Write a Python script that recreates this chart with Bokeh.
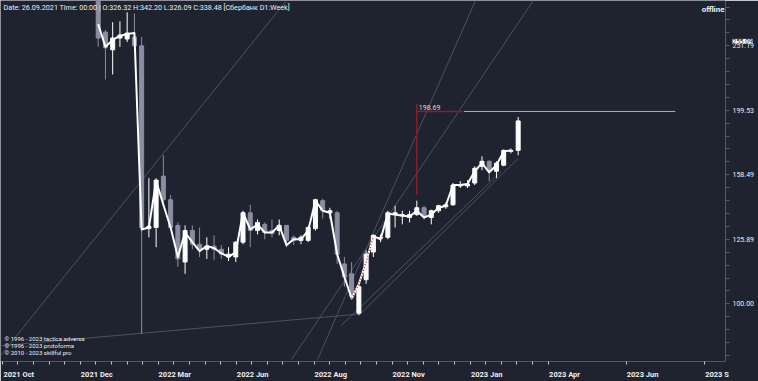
from bokeh.plotting import figure
from bokeh.models import (ColumnDataSource, Range1d, LogAxis, LinearAxis,
                          FixedTicker, PrintfTickFormatter, Label)
from bokeh.embed import file_html
from bokeh.resources import INLINE

# ---------------- data (weekly bars, Sberbank) ----------------
bars = list(range(59))
opens = [296.0, 263.7, 247.6, 258.2, 257.3, 259.2, 251.1, 130.8, 131.3, 157.7,
         145.0, 132.3, 116.1, 129.9, 123.7, 121.5, 122.9, 121.5, 118.2, 118.2,
         124.6, 138.4, 129.9, 132.8, 129.9, 129.9, 132.3, 126.8, 125.4, 125.4,
         130.8, 144.5, 138.4, 138.4, 115.3, 111.3, 96.7, 109.0, 120.3, 126.4,
         126.8, 137.5, 136.9, 136.1, 137.5, 140.9, 136.1, 139.4, 141.4, 142.4,
         152.3, 152.3, 153.9, 163.4, 166.3, 160.5, 164.0, 172.3, 172.9]
highs = [300.0, 265.6, 273.2, 274.1, 283.0, 282.0, 259.2, 156.6, 156.6, 169.9,
         147.5, 133.7, 132.3, 132.3, 131.3, 126.8, 127.7, 123.3, 122.4, 125.0,
         139.4, 142.4, 135.1, 133.7, 135.1, 135.1, 132.3, 127.7, 127.7, 131.9,
         145.5, 145.5, 140.9, 139.4, 118.2, 116.1, 107.1, 121.0, 128.1, 128.1,
         139.4, 141.9, 139.4, 139.4, 144.5, 141.9, 139.9, 142.4, 143.5, 153.9,
         154.9, 155.5, 163.4, 169.3, 166.9, 166.3, 173.5, 174.1, 194.8]
lows = [250.2, 222.7, 226.7, 250.2, 254.6, 250.2, 89.8, 126.8, 122.4, 143.5,
        130.4, 114.1, 111.3, 121.5, 118.2, 117.4, 117.0, 117.4, 116.5, 116.1,
        123.7, 122.4, 128.1, 125.9, 126.8, 127.7, 122.4, 123.3, 123.7, 124.6,
        129.9, 135.6, 135.6, 115.3, 106.3, 101.9, 96.0, 107.4, 118.2, 124.6,
        125.9, 131.3, 132.8, 133.7, 136.9, 135.1, 132.8, 138.4, 140.4, 141.9,
        151.2, 151.2, 152.8, 161.1, 154.9, 156.6, 163.4, 171.1, 169.9]
closes = [258.2, 249.3, 258.2, 261.0, 262.8, 251.1, 131.3, 131.9, 155.5, 145.0,
          131.3, 117.4, 129.9, 123.7, 121.5, 122.9, 121.5, 119.4, 119.4, 124.6,
          138.4, 129.9, 133.7, 129.0, 128.6, 132.3, 125.4, 125.4, 126.8, 131.3,
          145.0, 139.4, 139.4, 119.4, 110.1, 102.6, 106.3, 119.4, 127.7, 126.8,
          138.4, 138.4, 137.5, 137.5, 140.9, 136.9, 139.4, 141.9, 142.4, 152.8,
          152.8, 153.3, 162.2, 166.3, 160.5, 165.2, 172.9, 172.9, 192.1]
# smoothed average line as drawn on the chart (one value per bar, last bar has none)
ma_values = [271.3, 250.2, 256.4, 260.1, 261.9, 262.8, 130.4, 131.3, 155.0, 142.4,
             131.3, 118.2, 129.0, 124.6, 120.7, 122.9, 122.0, 119.8, 118.2, 120.3,
             138.4, 130.4, 132.8, 129.0, 129.0, 132.3, 123.3, 125.9, 125.9, 129.9,
             144.5, 139.4, 138.4, 119.4, 110.1, 101.9, 107.4, 116.1, 127.3, 125.9,
             137.9, 137.5, 136.9, 136.6, 139.4, 136.1, 137.5, 140.9, 141.9, 152.8,
             152.8, 153.3, 160.5, 165.2, 159.9, 164.0, 172.3, 172.9]

price_levels = [100.00, 125.89, 158.49, 199.53, 251.19]
time_labels = ["2021 Oct", "2021 Dec", "2022 Mar", "2022 Jun", "2022 Aug",
               "2022 Nov", "2023 Jan", "2023 Apr", "2023 Jun", "2023 S"]
header = ("Date: 26.09.2021 Time: 00:00 | O:326.32 H:342.20 L:326.09 "
          "C:338.48 [\u0421\u0431\u0435\u0440\u0431\u0430\u043d\u043a D1:Week]")
copyrights = ["\u00a9 1996 - 2023 tactica adversa", "\u00a9 1996 - 2023 protoforma",
              "\u00a9 2010 - 2023 skillful pro"]
marked_level = 198.69
tag_level = 255.09
measure_bar = 44
measure_top, measure_bottom = 204.0, 147.7
red_end_bar, olive_start_bar, olive_end_bar = 50.27, 50.5, 79.7
# trend lines drawn by hand: (bar0, price0, bar1, price1)
trend_lines = [(-13.49, 83.1, 26.0, 295.2),
               (-13.49, 86.1, 35.96, 96.4),
               (30.29, 82.0, 52.11, 295.2),
               (26.7, 82.0, 60.1, 295.2),
               (33.5, 92.4, 55.6, 160.0),
               (36.0, 96.0, 58.0, 168.0)]

# ---------------- styling / layout ----------------
BG = "#1f2330"
GREY = "#8b8da1"
WHITE = "#ffffff"
LINE_GREY = "#4c5162"
TXT = "#eeeeee"
FONT = "Roboto"

PX_PER_BAR = 7.241
BAR0_PX = 97.7
FRAME_W = 725
x_start = -BAR0_PX / PX_PER_BAR
x_end = (FRAME_W - BAR0_PX) / PX_PER_BAR
y_bottom, y_top = 81.4, 295.2

p = figure(width=758, height=381, output_backend="svg", toolbar_location=None,
           x_range=Range1d(x_start, x_end), y_range=Range1d(y_bottom, y_top),
           y_axis_type="log", x_axis_location=None, y_axis_location=None,
           min_border_left=0, min_border_top=0, min_border_right=33,
           min_border_bottom=15)
p.background_fill_color = BG
p.border_fill_color = BG
p.outline_line_color = None
p.grid.visible = False

# trend lines
for (a0, v0, a1, v1) in trend_lines:
    p.line([a0, a1], [v0, v1], color=LINE_GREY, line_width=1)

# candles
colors = [WHITE if c >= o else GREY for o, c in zip(opens, closes)]
src = ColumnDataSource(dict(x=bars, h=highs, l=lows,
                            top=[max(o, c) for o, c in zip(opens, closes)],
                            bottom=[min(o, c) for o, c in zip(opens, closes)],
                            color=colors))
p.segment(x0="x", y0="l", x1="x", y1="h", color="color", line_width=1, source=src)
p.vbar(x="x", width=0.55, top="top", bottom="bottom", fill_color="color",
       line_color="color", line_width=1, source=src)

# average line
p.line(bars[:len(ma_values)], ma_values, color=WHITE, line_width=2, line_join="round")
p.line(bars[35:39], ma_values[35:39], color="#d03040", line_width=1.5, line_dash="1 2")

# measurement lines
p.line([measure_bar, measure_bar], [measure_bottom, measure_top], color="#8a1f2a", line_width=1.5)
p.line([measure_bar, red_end_bar], [marked_level, marked_level], color="#8a1f2a", line_width=1.5)
p.line([olive_start_bar, olive_end_bar], [marked_level, marked_level], color="#c2bd4a", line_width=1)
p.add_layout(Label(x=measure_bar, y=marked_level, x_offset=2, y_offset=1, text="198.69",
                   text_font=FONT, text_font_size="7px", text_color="#dddddd",
                   text_baseline="bottom"))

# texts
p.add_layout(Label(x=x_start, y=y_top, x_offset=3, y_offset=-2, text=header,
                   text_font=FONT, text_font_size="7.2px", text_color=TXT,
                   text_baseline="top"))
p.add_layout(Label(x=x_end, y=y_top, x_offset=-1, y_offset=-4, text="offline",
                   text_font=FONT, text_font_size="8px", text_font_style="bold",
                   text_color=TXT, text_align="right", text_baseline="top"))
for i, t in enumerate(copyrights):
    p.add_layout(Label(x=x_start, y=y_bottom, x_offset=4, y_offset=23 - 7 * i, text=t,
                       text_font=FONT, text_font_size="6px", text_color=TXT,
                       text_baseline="middle"))

# ---- right side: [tick marks] [price tag panel] [price labels pulled back] ----
tick_levels = [10 ** (2 + 0.02 * k) for k in range(-5, 25)]
tick_axis = LogAxis(ticker=FixedTicker(ticks=[], minor_ticks=tick_levels))
tick_axis.axis_line_color = None
tick_axis.major_tick_in = 0
tick_axis.major_tick_out = 0
tick_axis.minor_tick_in = 0
tick_axis.minor_tick_out = 4
tick_axis.minor_tick_line_color = "#555a6b"
tick_axis.major_label_standoff = 0
p.add_layout(tick_axis, "right")

# price tag (side-panel annotation, so it is not clipped to the frame)
p.add_layout(Label(x=x_end, y=tag_level, x_offset=7, text="255.09",
                   text_font=FONT, text_font_size="6.5px", text_color="#2a2d38",
                   text_baseline="middle", background_fill_color="#ffffff"), "right")

label_axis = LogAxis(ticker=FixedTicker(ticks=price_levels, minor_ticks=[]),
                     formatter=PrintfTickFormatter(format="%.2f"))
label_axis.axis_line_color = None
label_axis.major_tick_in = 0
label_axis.major_tick_out = 0
label_axis.minor_tick_in = 0
label_axis.minor_tick_out = 0
label_axis.major_label_standoff = -17
label_axis.major_label_text_font = FONT
label_axis.major_label_text_font_size = "7px"
label_axis.major_label_text_color = TXT
p.add_layout(label_axis, "right")

# bottom time axis (ticks at fixed pixel spacing, labels start just right of their tick)
TICK0_PX, LABEL_STEP_PX = 1.8, 77.97
tick_px = [TICK0_PX + LABEL_STEP_PX * k for k in range(len(time_labels))]
minor_px = [TICK0_PX + LABEL_STEP_PX / 5 * k for k in range(36)] + tick_px[8:]
label_w = [30] * 9 + [23]
label_pos = [round((tp + 1.5 + w / 2 - BAR0_PX) / PX_PER_BAR, 3) for tp, w in zip(tick_px, label_w)]
minor_pos = [(m - BAR0_PX) / PX_PER_BAR for m in minor_px]
xaxis = LinearAxis(ticker=FixedTicker(ticks=label_pos, minor_ticks=minor_pos))
xaxis.major_label_overrides = {pos: lab for pos, lab in zip(label_pos, time_labels)}
xaxis.axis_line_color = None
xaxis.major_tick_in = 0
xaxis.major_tick_out = 0
xaxis.minor_tick_in = 0
xaxis.minor_tick_out = 3
xaxis.minor_tick_line_color = "#c8c8c8"
xaxis.major_label_standoff = 5
xaxis.major_label_text_font = FONT
xaxis.major_label_text_font_size = "7.5px"
xaxis.major_label_text_font_style = "bold"
xaxis.major_label_text_color = TXT
p.add_layout(xaxis, "below")

open("out.html", "w").write(file_html(p, INLINE))
